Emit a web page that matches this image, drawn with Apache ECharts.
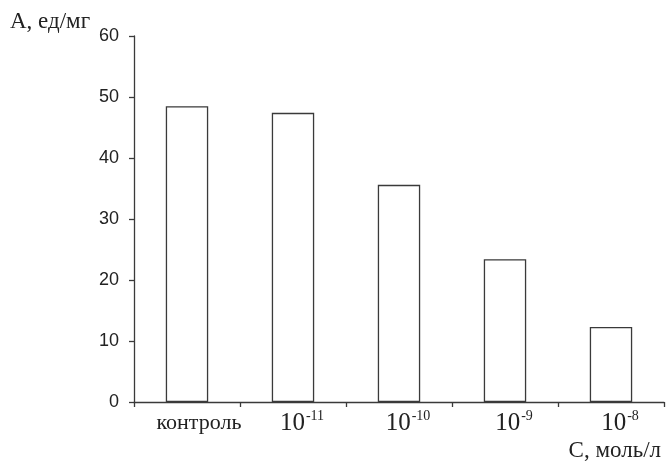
<!DOCTYPE html>
<html>
<head>
<meta charset="utf-8">
<script src="https://cdn.jsdelivr.net/npm/echarts@6/dist/echarts.min.js"></script>
<style>
  html, body { margin: 0; padding: 0; background: #fff; }
  #chart { width: 666px; height: 462px; }
</style>
</head>
<body>
<div id="chart"></div>
<script>
// Concentration groups: the control plus exponents of 10 (mol/l)
const categories = ['контроль', '-11', '-10', '-9', '-8'];
const activity = [48.5, 47.4, 35.6, 23.4, 12.3];
const yTicks = [0, 10, 20, 30, 40, 50, 60];

const ink = '#3a3a3a';
const serif = '"Liberation Serif", "DejaVu Serif", serif';
const sans = '"Liberation Sans", Arial, sans-serif';

const chart = echarts.init(document.getElementById('chart'), null, { renderer: 'canvas' });

chart.setOption({
  animation: false,
  backgroundColor: '#ffffff',
  grid: { left: 134, right: 2, top: 36, bottom: 60, containLabel: false },
  xAxis: {
    type: 'category',
    data: categories,
    boundaryGap: true,
    axisLine: { show: true, lineStyle: { color: ink, width: 1.3 } },
    axisTick: { show: true, interval: 0, length: 5, lineStyle: { color: ink, width: 1.3 } },
    axisLabel: {
      interval: 0,
      margin: 7,
      color: '#222',
      formatter: function (v) {
        if (v === 'контроль') return '{padw|}{c|контроль}';
        return '{pad|}{b|10}{s|' + v + '}';
      },
      rich: {
        pad: { width: 18 },
        padw: { width: 24 },
        c: { fontFamily: serif, fontSize: 22, color: '#222', lineHeight: 28 },
        b: { fontFamily: serif, fontSize: 25, color: '#222', lineHeight: 28 },
        s: { fontFamily: serif, fontSize: 14, color: '#222', verticalAlign: 'top', lineHeight: 28, padding: [0, 0, 12, 1] }
      }
    },
    splitLine: { show: false }
  },
  yAxis: {
    type: 'value',
    min: yTicks[0],
    max: yTicks[yTicks.length - 1],
    interval: 10,
    axisLine: { show: true, lineStyle: { color: ink, width: 1.3 } },
    axisTick: { show: true, length: 5, lineStyle: { color: ink, width: 1.3 } },
    axisLabel: { margin: 15, color: '#222', fontFamily: sans, fontSize: 18 },
    splitLine: { show: false }
  },
  series: [{
    type: 'bar',
    data: activity,
    barWidth: '40%',
    itemStyle: { color: '#ffffff', borderColor: ink, borderWidth: 1.3 }
  }],
  graphic: [
    {
      type: 'text', left: 10, top: 10,
      style: { text: 'A, ед/мг', fontFamily: serif, fontSize: 23, fill: '#222' }
    },
    {
      type: 'text', right: 5, top: 439,
      style: { text: 'C, моль/л', fontFamily: serif, fontSize: 23, fill: '#222' }
    }
  ]
});
</script>
</body>
</html>
